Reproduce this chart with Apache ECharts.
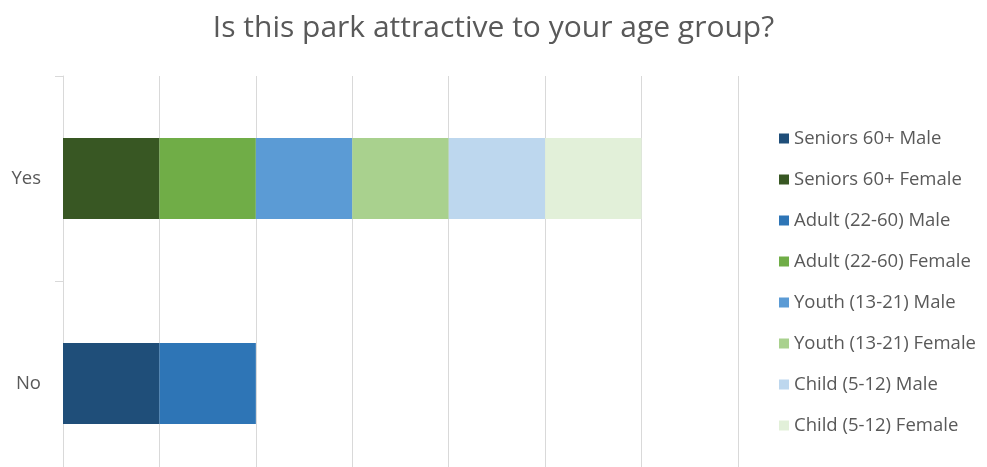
<!DOCTYPE html>
<html>
<head>
<meta charset="utf-8">
<script src="https://cdn.jsdelivr.net/npm/echarts@6/dist/echarts.min.js"></script>
<style>html,body{margin:0;padding:0;background:#fff;overflow:hidden}#c{width:987px;height:490px}</style>
</head>
<body>
<div id="c"></div>
<script>
const categories = ['Yes', 'No'];
const seriesNames = ['Seniors 60+ Male','Seniors 60+ Female','Adult (22-60) Male','Adult (22-60) Female','Youth (13-21) Male','Youth (13-21) Female','Child (5-12) Male','Child (5-12) Female'];
const seniorsMale = [0, 1];
const seniorsFemale = [1, 0];
const adultMale = [0, 1];
const adultFemale = [1, 0];
const youthMale = [1, 0];
const youthFemale = [1, 0];
const childMale = [1, 0];
const childFemale = [1, 0];
const seriesValues = [seniorsMale, seniorsFemale, adultMale, adultFemale, youthMale, youthFemale, childMale, childFemale];
const colors = ['#1F4E79','#385723','#2E75B6','#70AD47','#5B9BD5','#A9D18E','#BDD7EE','#E2F0D9'];

const font = '"Open Sans", "Noto Sans", sans-serif';
const chart = echarts.init(document.getElementById('c'), null, {renderer: 'canvas'});
chart.setOption({
  animation: false,
  color: colors,
  title: {
    text: 'Is this park attractive to your age group?',
    left: 'center', top: 8,
    textStyle: {fontFamily: font, fontSize: 30, fontWeight: 'normal', color: '#595959'}
  },
  legend: {
    orient: 'vertical', left: 774, top: 124,
    icon: 'rect', itemWidth: 10, itemHeight: 10, itemGap: 22,
    textStyle: {fontFamily: font, fontSize: 18.5, color: '#595959', lineHeight: 17},
    data: seriesNames
  },
  grid: {left: 63, top: 76, width: 675, bottom: 4, containLabel: false},
  xAxis: {
    type: 'value', min: 0, max: 7, interval: 1,
    axisLabel: {show: false}, axisTick: {show: false}, axisLine: {show: false},
    splitLine: {show: true, lineStyle: {color: '#d9d9d9', width: 1}}
  },
  yAxis: {
    type: 'category', data: categories, inverse: true,
    axisLine: {show: true, lineStyle: {color: '#d9d9d9'}},
    axisTick: {show: true, length: 8, lineStyle: {color: '#d9d9d9'}},
    axisLabel: {margin: 22, fontFamily: font, fontSize: 18.5, color: '#595959'}
  },
  series: seriesNames.map((n, i) => ({
    name: n, type: 'bar', stack: 'total', barWidth: 81,
    data: seriesValues[i],
    itemStyle: {color: colors[i]}
  }))
});
</script>
</body>
</html>
